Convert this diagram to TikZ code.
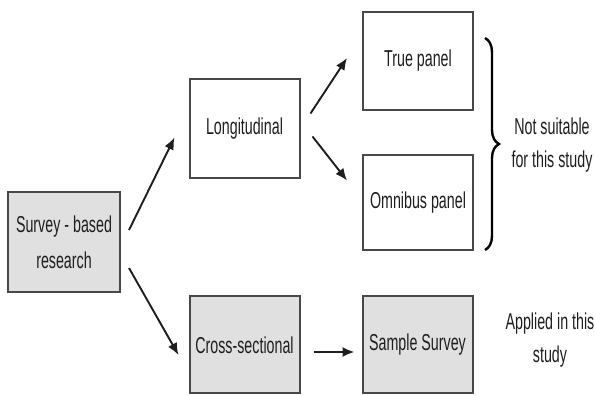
\documentclass[tikz,border=0pt]{standalone}
\usepackage{fontspec}
\setmainfont{Liberation Sans}[FakeStretch=0.62]
\usetikzlibrary{arrows.meta,decorations.pathreplacing}
\definecolor{SbrInk}{RGB}{30,30,30}
\definecolor{SbrEdge}{RGB}{72,72,72}
\definecolor{SbrFill}{RGB}{224,224,224}
\tikzset{
  sbr/box/.style={
    draw=SbrEdge,
    line width=2pt,
    fill=white,
    align=center,
    text=SbrInk,
    minimum width=110pt,
    minimum height=97pt,
    inner sep=2pt,
    font=\fontsize{23}{36}\selectfont
  },
  sbr/graybox/.style={
    sbr/box,
    fill=SbrFill
  },
  sbr/note/.style={align=center, text=SbrInk, font=\fontsize{23}{33}\selectfont},
  sbr/arrow/.style={-{Latex[length=12pt,width=10pt]}, line width=1.9pt, draw=SbrInk},
  sbr/brace/.style={decorate, decoration={brace, amplitude=14pt}, line width=2.4pt, draw=black}
}

\begin{document}
\begin{tikzpicture}[x=1pt,y=1pt]
  \useasboundingbox (0,0) rectangle (595,396);
  \node[sbr/graybox,minimum width=112pt,minimum height=100pt] (survey) at (64,154) {Survey - based\\research};
  \node[sbr/box,minimum height=99pt] (long) at (244.5,267.5) {Longitudinal};
  \node[sbr/graybox] (cross) at (244.5,51) {Cross-sectional};
  \node[sbr/box,minimum height=98pt] (true) at (418,335) {True panel};
  \node[sbr/box,minimum height=95pt] (omni) at (418,193.5) {Omnibus panel};
  \node[sbr/graybox] (sample) at (417.5,51) {Sample Survey};
  \node[sbr/note] (unfit) at (552,251) {Not suitable\\for this study};
  \node[sbr/note] (applied) at (550,56) {Applied in this\\study};
  \coordinate (bracetop) at (485,358);
  \coordinate (bracebot) at (485,146);
  \draw[sbr/brace] (bracetop) -- (bracebot);
  \draw[sbr/arrow] ([shift={(8,12)}]survey.east) -- ([shift={(-14,-9)}]long.west);
  \draw[sbr/arrow] ([shift={(8,-26)}]survey.east) -- ([shift={(-10,-10)}]cross.west);
  \draw[sbr/arrow] ([shift={(10,15)}]long.east) -- ([shift={(-15,3)}]true.west);
  \draw[sbr/arrow] ([shift={(12,-8)}]long.east) -- ([shift={(-15,22)}]omni.west);
  \draw[sbr/arrow] ([shift={(13,-7)}]cross.east) -- ([shift={(-7,-7)}]sample.west);
\end{tikzpicture}
\end{document}
